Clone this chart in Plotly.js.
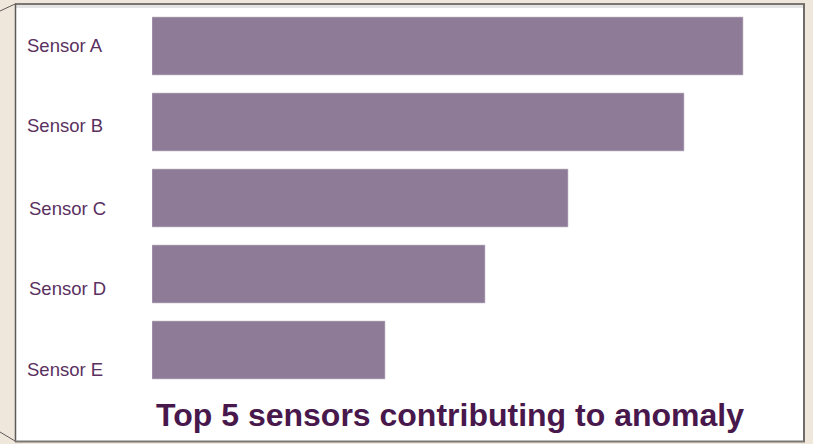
<!DOCTYPE html>
<html>
<head>
<meta charset="utf-8">
<script src="https://cdn.plot.ly/plotly-3.0.1.min.js"></script>
<style>
  html, body { margin: 0; padding: 0; background: #efe6dc; }
  #chart { width: 813px; height: 444px; }
</style>
</head>
<body>
<div id="chart"></div>
<script>
// Data
const sensors = ["Sensor A", "Sensor B", "Sensor C", "Sensor D", "Sensor E"];
const contribution = [59.1, 53.2, 41.6, 33.3, 23.3];
const chartTitle = "Top 5 sensors contributing to anomaly";

// Layout geometry (pixels)
const W = 813, H = 444;
const ML = 152, MR = 33, MT = 8, MB = 56;
const PW = W - ML - MR, PH = H - MT - MB;
const px = x => (x - ML) / PW;
const py = y => (H - MB - y) / PH;

const barColor = "#8e7b97";
const labelColor = "#5a3160";
const titleColor = "#48184c";

const trace = {
  type: "bar",
  orientation: "h",
  y: sensors,
  x: contribution,
  marker: { color: barColor, line: { color: "rgba(200,190,205,0.6)", width: 1 } },
  hoverinfo: "x+y"
};

const labelShift = [1, -3, -10, -14, -19];
const labelLeft = [25, 25, 27, 27, 25];
const annotations = sensors.map((s, i) => ({
  text: s,
  xref: "paper", yref: "y",
  x: px(labelLeft[i]), y: s,
  xanchor: "left", yanchor: "middle",
  yshift: labelShift[i],
  showarrow: false,
  font: { family: "Liberation Sans, Arial, sans-serif", size: 18.5, color: labelColor }
}));

const shapes = [
  // white panel
  { type: "rect", xref: "paper", yref: "paper", layer: "below",
    x0: px(15), x1: px(804), y0: py(441), y1: py(4),
    fillcolor: "#ffffff", line: { width: 0 } },
  // light band under top border
  { type: "rect", xref: "paper", yref: "paper", layer: "below",
    x0: px(16), x1: px(803), y0: py(8), y1: py(5),
    fillcolor: "#e4e4e4", line: { width: 0 } },
  // top border
  { type: "line", xref: "paper", yref: "paper", x0: px(15), x1: px(805), y0: py(4), y1: py(4),
    line: { color: "#7a7672", width: 2 } },
  // right border
  { type: "line", xref: "paper", yref: "paper", x0: px(804), x1: px(804), y0: py(4), y1: py(442),
    line: { color: "#6f6b68", width: 2 } },
  // left border
  { type: "line", xref: "paper", yref: "paper", x0: px(15.5), x1: px(15.5), y0: py(4), y1: py(442),
    line: { color: "#5e5a58", width: 1.5 } },
  // bottom border
  { type: "line", xref: "paper", yref: "paper", x0: px(15), x1: px(805), y0: py(441.5), y1: py(441.5),
    line: { color: "#7a7672", width: 2 } },
  // perspective diagonals
  { type: "line", xref: "paper", yref: "paper", x0: px(0), x1: px(15), y0: py(11), y1: py(4),
    line: { color: "#5e5a58", width: 1 } },
  { type: "line", xref: "paper", yref: "paper", x0: px(0), x1: px(15), y0: py(432), y1: py(441),
    line: { color: "#5e5a58", width: 1 } }
];

const layout = {
  width: W, height: H,
  margin: { l: ML, r: MR, t: MT, b: MB, pad: 0 },
  paper_bgcolor: "#efe6dc",
  plot_bgcolor: "rgba(0,0,0,0)",
  bargap: 0.237,
  showlegend: false,
  title: {
    text: "<b>" + chartTitle + "</b>",
    x: 450 / W, xref: "container", xanchor: "center",
    y: 1 - 415 / H, yref: "container", yanchor: "middle",
    font: { family: "Liberation Sans, Arial, sans-serif", size: 32, color: titleColor }
  },
  xaxis: {
    range: [0, PW / 10], showgrid: false, zeroline: false, showticklabels: false,
    showline: false, ticks: "", fixedrange: true
  },
  yaxis: {
    autorange: "reversed", showgrid: false, zeroline: false, showticklabels: false,
    showline: false, ticks: "", fixedrange: true
  },
  shapes: shapes,
  annotations: annotations
};

Plotly.newPlot("chart", [trace], layout, { displayModeBar: false, staticPlot: true });
</script>
</body>
</html>
